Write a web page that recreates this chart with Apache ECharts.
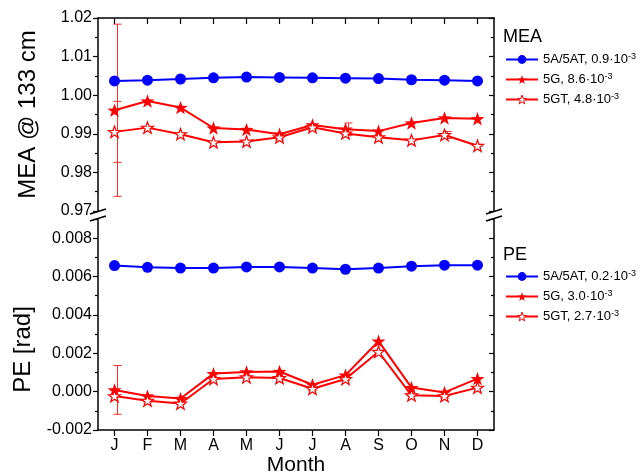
<!DOCTYPE html>
<html><head><meta charset="utf-8">
<script src="https://cdn.jsdelivr.net/npm/echarts@6/dist/echarts.min.js"></script>
<style>html,body{margin:0;padding:0;background:#fff}#c{width:643px;height:473px}</style>
</head><body><div id="c"></div>
<script>
const months = ['J','F','M','A','M','J','J','A','S','O','N','D'];
// MEA @ 133 cm
const mea5A  = [1.0037, 1.0039, 1.0042, 1.0045, 1.0047, 1.0046, 1.0045, 1.0044, 1.0043, 1.0040, 1.0039, 1.0037];
const mea5G  = [0.9961, 0.9985, 0.9968, 0.9915, 0.9911, 0.9899, 0.9923, 0.9912, 0.9907, 0.9928, 0.9941, 0.9939];
const mea5GT = [0.9905, 0.9916, 0.9899, 0.9878, 0.9880, 0.9891, 0.9917, 0.9901, 0.9891, 0.9883, 0.9897, 0.9869];
const mea5GErr  = [0.0223, null, null, null, null, null, null, 0.0016, null, null, null, null];
const mea5GTErr = [0.0079, null, null, null, null, null, null, null, null, null, 0.0009, null];
// PE [rad]
const pe5A  = [0.00657, 0.00648, 0.00644, 0.00644, 0.00650, 0.00650, 0.00644, 0.00638, 0.00644, 0.00654, 0.00659, 0.00659];
const pe5G  = [0.00009, -0.00023, -0.00036, 0.00094, 0.00103, 0.00105, 0.00036, 0.00086, 0.00263, 0.00021, -0.00004, 0.00068];
const pe5GT = [-0.00023, -0.00047, -0.00062, 0.00066, 0.00075, 0.00071, 0.00015, 0.00066, 0.00208, -0.00019, -0.00023, 0.00021];
const pe5GErr = [0.00127, null, null, null, null, null, null, null, null, null, null, null];
// legend labels
const meaLegend = ['5A/5AT, 0.9·10', '5G, 8.6·10', '5GT, 4.8·10'];
const peLegend  = ['5A/5AT, 0.2·10', '5G, 3.0·10', '5GT, 2.7·10'];
const mantExp = '-3';

const FONT = "'Liberation Sans', Arial, sans-serif";
const BLUE = '#0000ff', RED = '#ff0000';
const STAR = 'path://M100 0 L123.5 67.6 L195.1 69.1 L138 112.4 L158.8 180.9 L100 140 L41.2 180.9 L62 112.4 L4.9 69.1 L76.5 67.6 Z';

const GL = 98, GR = 149, T0 = 18, B0H = 193, T1 = 219, B1 = 43;

function errData(vals, errs){
  const out = [];
  vals.forEach((v,i)=>{ if(errs[i]!=null) out.push([i, v, errs[i]]); });
  return out;
}
function errRender(params, api){
  const x = api.value(0), v = api.value(1), e = api.value(2);
  const t = api.coord([x, v+e]), b = api.coord([x, v-e]);
  const dx = 3, c = 4;
  const st = {stroke:'#ff2a2a', lineWidth:1};
  return {type:'group', children:[
    {type:'line', shape:{x1:t[0]+dx, y1:t[1], x2:b[0]+dx, y2:b[1]}, style:st},
    {type:'line', shape:{x1:t[0]+dx-c, y1:t[1], x2:t[0]+dx+c, y2:t[1]}, style:st},
    {type:'line', shape:{x1:b[0]+dx-c, y1:b[1], x2:b[0]+dx+c, y2:b[1]}, style:st}
  ]};
}
function lineSeries(name, data, xi, yi, kind){
  const s = {name, type:'line', data, xAxisIndex:xi, yAxisIndex:yi,
    lineStyle:{width:2, color: kind==='c'?BLUE:RED}, z:3};
  if(kind==='c'){ s.symbol='circle'; s.symbolSize=11; s.itemStyle={color:BLUE}; }
  else if(kind==='s'){ s.symbol=STAR; s.symbolSize=14; s.symbolKeepAspect=true; s.itemStyle={color:RED}; }
  else { s.symbol=STAR; s.symbolSize=12; s.symbolKeepAspect=true; s.itemStyle={color:'#ffffff', borderColor:RED, borderWidth:1.2}; s.lineStyle.color=RED; }
  return s;
}
const axLine = {show:true, onZero:false, lineStyle:{color:'#000', width:1.5}};
function yAxisL(gi, min, max, interval, dec, name, pad){
  return {type:'value', gridIndex:gi, position:'left', min, max, interval,
    axisLine:axLine, splitLine:{show:false},
    axisTick:{show:true, inside:false, length:5, lineStyle:{color:'#000', width:1.2}},
    minorTick:{show:true, splitNumber:2, length:3, lineStyle:{color:'#000', width:1.2}},
    axisLabel:{formatter:v=>v.toFixed(dec), fontSize:16, color:'#000', fontFamily:FONT, margin:6, showMaxLabel: gi===0},
    name, nameLocation:'middle', nameGap:58, nameRotate:90,
    nameTextStyle:{fontSize:24, color:'#000', fontFamily:FONT, padding:pad}};
}
function yAxisR(gi, min, max, interval){
  return {type:'value', gridIndex:gi, position:'right', min, max, interval,
    axisLine:axLine, splitLine:{show:false},
    axisTick:{show:true, inside:true, length:5, lineStyle:{color:'#000', width:1.2}},
    minorTick:{show:true, splitNumber:2, length:3, lineStyle:{color:'#000', width:1.2}},
    axisLabel:{show:false}};
}
function legendFmt(labels, names){
  return function(name){ const i = names.indexOf(name); return '{a|'+labels[i]+'}{s|'+mantExp+'}'; };
}
const meaNames = ['MEA 5A/5AT','MEA 5G','MEA 5GT'];
const peNames  = ['PE 5A/5AT','PE 5G','PE 5GT'];
const legendText = {fontSize:13, color:'#000', fontFamily:FONT,
  rich:{a:{fontSize:13, fontFamily:FONT, color:'#000'}, s:{fontSize:9, fontFamily:FONT, color:'#000', verticalAlign:'top', padding:[0,0,6,0]}}};

const chart = echarts.init(document.getElementById('c'), null, {renderer:'canvas'});
const breakStyle = {stroke:'#000', lineWidth:1.5};
function brk(x){
  return [
    {type:'line', shape:{x1:x-8, y1:214, x2:x+8, y2:209}, style:breakStyle},
    {type:'line', shape:{x1:x-8, y1:221, x2:x+8, y2:216}, style:breakStyle}
  ];
}
const legendItem = {borderWidth:1};
chart.setOption({
  animation:false,
  backgroundColor:'#fff',
  textStyle:{fontFamily:FONT},
  title:[
    {text:'MEA', left:503, top:28, padding:0, textStyle:{fontSize:18, fontWeight:'normal', color:'#000', fontFamily:FONT}},
    {text:'PE', left:503, top:246, padding:0, textStyle:{fontSize:18, fontWeight:'normal', color:'#000', fontFamily:FONT}}
  ],
  legend:[
    {data:meaNames, orient:'vertical', left:505, top:52, itemWidth:32, itemHeight:11, itemGap:6, padding:0,
      itemStyle:legendItem, formatter:legendFmt(meaLegend, meaNames), textStyle:legendText},
    {data:peNames, orient:'vertical', left:505, top:269, itemWidth:32, itemHeight:11, itemGap:6, padding:0,
      itemStyle:legendItem, formatter:legendFmt(peLegend, peNames), textStyle:legendText}
  ],
  grid:[
    {left:GL, right:GR, top:T0, height:B0H, outerBoundsMode:'none', containLabel:false},
    {left:GL, right:GR, top:T1, bottom:B1, outerBoundsMode:'none', containLabel:false}
  ],
  xAxis:[
    {type:'category', gridIndex:0, position:'top', data:months, boundaryGap:true,
      axisLine:axLine, axisTick:{show:true, inside:true, alignWithLabel:true, length:6, lineStyle:{color:'#000', width:1.2}},
      axisLabel:{show:false}, splitLine:{show:false}},
    {type:'category', gridIndex:1, position:'bottom', data:months, boundaryGap:true,
      axisLine:axLine, axisTick:{show:true, inside:false, alignWithLabel:true, length:6, lineStyle:{color:'#000', width:1.2}},
      axisLabel:{fontSize:16, color:'#000', fontFamily:FONT, margin:8, interval:0},
      name:'Month', nameLocation:'middle', nameGap:22, nameTextStyle:{fontSize:21, color:'#000', fontFamily:FONT}}
  ],
  yAxis:[
    yAxisL(0, 0.97, 1.02, 0.01, 2, 'MEA @ 133 cm', [0,0,0,0]),
    yAxisL(1, -0.002, 0.009, 0.002, 3, 'PE [rad]', [0,50,0,0]),
    yAxisR(0, 0.97, 1.02, 0.01),
    yAxisR(1, -0.002, 0.009, 0.002)
  ],
  series:[
    {type:'custom', name:'err1', xAxisIndex:0, yAxisIndex:0, renderItem:errRender, data:errData(mea5G, mea5GErr), z:2, silent:true},
    {type:'custom', name:'err2', xAxisIndex:0, yAxisIndex:0, renderItem:errRender, data:errData(mea5GT, mea5GTErr), z:2, silent:true},
    {type:'custom', name:'err3', xAxisIndex:1, yAxisIndex:1, renderItem:errRender, data:errData(pe5G, pe5GErr), z:2, silent:true},
    lineSeries(meaNames[0], mea5A, 0, 0, 'c'),
    lineSeries(meaNames[1], mea5G, 0, 0, 's'),
    lineSeries(meaNames[2], mea5GT, 0, 0, 'h'),
    lineSeries(peNames[0], pe5A, 1, 1, 'c'),
    lineSeries(peNames[1], pe5G, 1, 1, 's'),
    lineSeries(peNames[2], pe5GT, 1, 1, 'h')
  ],
  graphic:[].concat(brk(GL), brk(643-GR))
});
</script></body></html>
